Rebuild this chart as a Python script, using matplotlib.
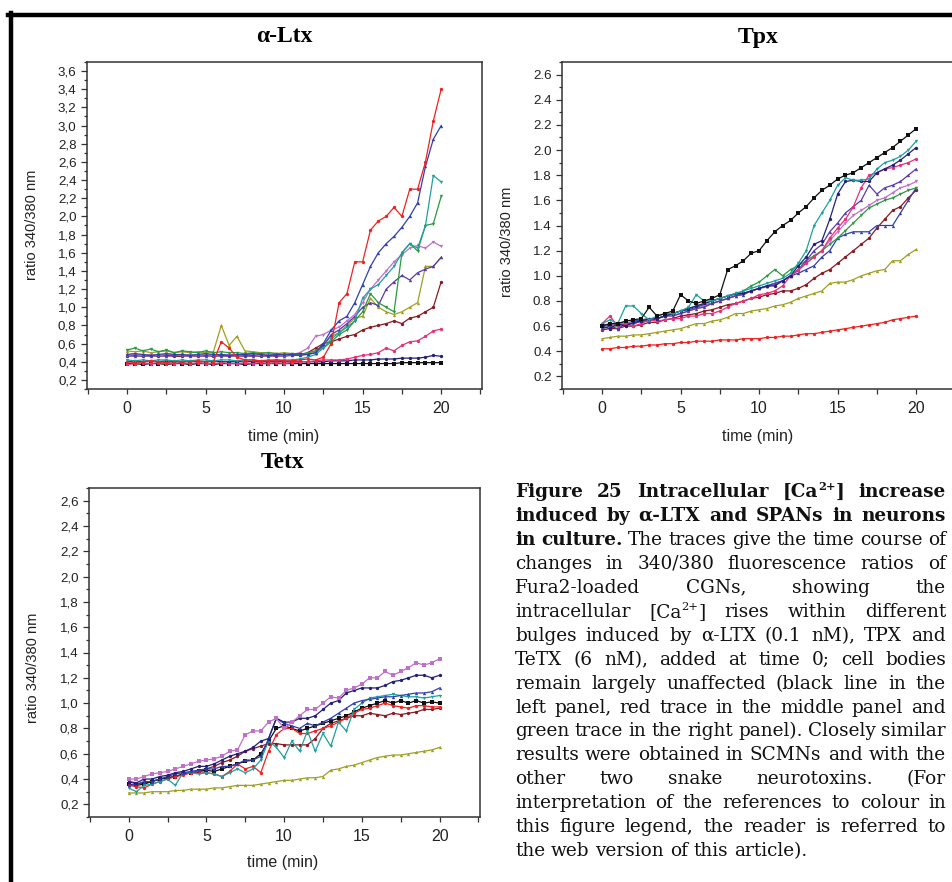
import re
import matplotlib
matplotlib.use("Agg")
import matplotlib.pyplot as plt
from matplotlib.lines import Line2D
from matplotlib.ticker import MultipleLocator, FixedLocator, FuncFormatter
from matplotlib import font_manager

# ---------------- data ----------------
time_min = [0.0, 0.5, 1.0, 1.5, 2.0, 2.5, 3.0, 3.5, 4.0, 4.5,
            5.0, 5.5, 6.0, 6.5, 7.0, 7.5, 8.0, 8.5, 9.0, 9.5,
            10.0, 10.5, 11.0, 11.5, 12.0, 12.5, 13.0, 13.5, 14.0, 14.5,
            15.0, 15.5, 16.0, 16.5, 17.0, 17.5, 18.0, 18.5, 19.0, 19.5,
            20.0]
x_ticks = [0, 5, 10, 15, 20]
panel_titles = ["\u03b1-Ltx", "Tpx", "Tetx"]

# alpha-Ltx panel
ltx_black = [0.38,0.38,0.37,0.38,0.38,0.37,0.38,0.38,0.37,0.38, 0.38,0.37,0.38,0.38,0.38,0.37,0.38,0.38,0.38,0.38,
             0.38,0.38,0.38,0.38,0.38,0.38,0.38,0.38,0.38,0.38, 0.38,0.38,0.38,0.38,0.38,0.39,0.39,0.39,0.39,0.39, 0.39]
ltx_navy = [0.40,0.41,0.40,0.41,0.40,0.41,0.40,0.40,0.41,0.40, 0.40,0.41,0.40,0.40,0.40,0.41,0.40,0.40,0.40,0.40,
            0.40,0.40,0.40,0.40,0.40,0.40,0.41,0.41,0.41,0.42, 0.42,0.42,0.43,0.43,0.43,0.44,0.44,0.44,0.45,0.47, 0.46]
ltx_pink = [0.37,0.38,0.39,0.38,0.39,0.38,0.38,0.39,0.38,0.39, 0.38,0.38,0.39,0.38,0.38,0.39,0.38,0.39,0.38,0.39,
            0.38,0.39,0.40,0.40,0.41,0.42,0.42,0.42,0.43,0.45, 0.47,0.48,0.50,0.55,0.52,0.58,0.62,0.63,0.68,0.74, 0.76]
ltx_red = [0.40,0.39,0.40,0.41,0.40,0.39,0.40,0.40,0.40,0.41, 0.40,0.40,0.62,0.55,0.45,0.42,0.42,0.41,0.41,0.42,
           0.41,0.41,0.42,0.43,0.42,0.45,0.60,1.05,1.15,1.50, 1.50,1.85,1.95,2.00,2.10,2.00,2.30,2.30,2.60,3.05, 3.40]
ltx_teal = [0.42,0.41,0.42,0.41,0.42,0.42,0.41,0.42,0.41,0.42, 0.42,0.41,0.42,0.42,0.41,0.42,0.42,0.41,0.42,0.42,
            0.42,0.42,0.43,0.45,0.48,0.55,0.65,0.72,0.78,0.85, 1.10,1.20,1.25,1.35,1.45,1.60,1.70,1.65,1.90,2.45, 2.38]
ltx_blue = [0.48,0.49,0.48,0.47,0.48,0.49,0.48,0.48,0.47,0.48, 0.49,0.48,0.48,0.47,0.48,0.48,0.49,0.48,0.47,0.48,
            0.48,0.48,0.49,0.48,0.50,0.60,0.75,0.85,0.90,1.05, 1.25,1.45,1.60,1.70,1.78,1.88,2.00,2.15,2.55,2.85, 3.00]
ltx_green = [0.53,0.55,0.52,0.54,0.51,0.53,0.50,0.52,0.51,0.50, 0.52,0.50,0.51,0.50,0.50,0.49,0.50,0.49,0.50,0.49,
             0.48,0.49,0.48,0.50,0.52,0.55,0.62,0.70,0.75,0.85, 0.95,1.15,1.05,1.00,0.95,1.60,1.70,1.62,1.90,1.92, 2.22]
ltx_violet = [0.47,0.48,0.47,0.48,0.47,0.48,0.48,0.47,0.48,0.47, 0.48,0.47,0.48,0.48,0.47,0.48,0.48,0.47,0.48,0.48,
              0.47,0.48,0.50,0.55,0.68,0.70,0.75,0.78,0.85,0.92, 1.05,1.20,1.30,1.40,1.50,1.58,1.65,1.68,1.65,1.72, 1.67]
ltx_indigo = [0.47,0.46,0.47,0.46,0.47,0.46,0.47,0.47,0.46,0.47, 0.46,0.47,0.46,0.47,0.46,0.47,0.46,0.47,0.46,0.47,
              0.46,0.47,0.47,0.48,0.50,0.58,0.70,0.75,0.82,0.90, 1.00,1.05,1.02,1.20,1.28,1.35,1.30,1.38,1.42,1.45, 1.55]
ltx_olive = [0.52,0.51,0.52,0.50,0.51,0.52,0.50,0.51,0.50,0.51, 0.50,0.51,0.80,0.58,0.68,0.52,0.51,0.50,0.50,0.49,
             0.50,0.49,0.48,0.49,0.52,0.58,0.68,0.72,0.80,0.88, 0.90,1.10,1.00,0.95,0.92,0.95,1.00,1.05,1.45,1.45, 1.55]
ltx_wine = [0.46,0.47,0.46,0.47,0.46,0.47,0.46,0.46,0.47,0.46, 0.47,0.46,0.47,0.46,0.47,0.46,0.47,0.46,0.47,0.46,
            0.47,0.47,0.47,0.50,0.55,0.60,0.62,0.65,0.68,0.70, 0.75,0.78,0.80,0.82,0.85,0.82,0.88,0.90,0.95,1.00, 1.28]

# Tpx panel
tpx_black = [0.60,0.62,0.62,0.64,0.65,0.66,0.75,0.68,0.70,0.72, 0.85,0.80,0.78,0.80,0.82,0.85,1.05,1.08,1.12,1.18,
             1.20,1.28,1.35,1.40,1.44,1.50,1.55,1.62,1.68,1.72, 1.77,1.80,1.82,1.86,1.90,1.94,1.98,2.02,2.07,2.12, 2.17]
tpx_red = [0.42,0.42,0.43,0.43,0.44,0.44,0.45,0.45,0.46,0.46, 0.47,0.47,0.48,0.48,0.48,0.49,0.49,0.49,0.50,0.50,
           0.50,0.51,0.51,0.52,0.52,0.53,0.54,0.54,0.55,0.56, 0.57,0.58,0.59,0.60,0.61,0.62,0.63,0.65,0.66,0.67, 0.68]
tpx_olive = [0.50,0.51,0.52,0.52,0.53,0.53,0.54,0.55,0.56,0.57, 0.58,0.60,0.62,0.62,0.64,0.65,0.67,0.70,0.70,0.72,
             0.73,0.74,0.76,0.77,0.79,0.82,0.84,0.86,0.88,0.94, 0.95,0.95,0.97,1.00,1.02,1.04,1.05,1.12,1.12,1.17, 1.21]
tpx_teal = [0.62,0.65,0.62,0.76,0.76,0.70,0.65,0.68,0.70,0.70, 0.72,0.75,0.85,0.80,0.80,0.82,0.84,0.86,0.88,0.90,
            0.92,0.94,0.96,0.98,1.02,1.10,1.20,1.40,1.50,1.60, 1.72,1.78,1.76,1.76,1.77,1.85,1.90,1.92,1.95,2.00, 2.07]
tpx_navy = [0.60,0.58,0.62,0.60,0.63,0.64,0.66,0.66,0.68,0.70, 0.72,0.74,0.76,0.78,0.80,0.82,0.84,0.86,0.86,0.88,
            0.90,0.92,0.92,0.96,1.00,1.08,1.15,1.25,1.28,1.45, 1.65,1.75,1.76,1.75,1.75,1.82,1.85,1.88,1.92,1.97, 2.02]
tpx_pink = [0.62,0.68,0.60,0.62,0.60,0.62,0.65,0.64,0.65,0.66, 0.66,0.68,0.68,0.70,0.70,0.72,0.75,0.78,0.80,0.82,
            0.85,0.86,0.88,0.92,1.00,1.05,1.10,1.15,1.20,1.30, 1.38,1.45,1.55,1.70,1.80,1.82,1.85,1.86,1.88,1.90, 1.93]
tpx_indigo = [0.58,0.60,0.58,0.62,0.62,0.64,0.64,0.66,0.68,0.68, 0.70,0.72,0.74,0.75,0.78,0.80,0.82,0.84,0.86,0.88,
              0.90,0.92,0.94,0.96,1.00,1.05,1.12,1.20,1.25,1.35, 1.42,1.50,1.55,1.60,1.72,1.65,1.70,1.72,1.75,1.80, 1.85]
tpx_green = [0.58,0.60,0.60,0.61,0.62,0.64,0.65,0.66,0.68,0.70, 0.72,0.74,0.76,0.78,0.80,0.82,0.84,0.85,0.88,0.92,
             0.95,1.00,1.05,1.00,1.05,1.08,1.12,1.16,1.20,1.25, 1.30,1.36,1.42,1.48,1.54,1.57,1.60,1.62,1.65,1.68, 1.70]
tpx_violet = [0.60,0.62,0.60,0.63,0.62,0.64,0.65,0.66,0.68,0.69, 0.70,0.72,0.74,0.76,0.78,0.80,0.82,0.84,0.86,0.88,
              0.90,0.91,0.93,0.96,1.00,1.04,1.10,1.15,1.20,1.28, 1.35,1.42,1.48,1.52,1.56,1.60,1.62,1.66,1.70,1.72, 1.75]
tpx_blue = [0.62,0.60,0.63,0.62,0.64,0.65,0.66,0.66,0.68,0.70, 0.72,0.73,0.75,0.77,0.78,0.80,0.82,0.84,0.85,0.88,
            0.90,0.92,0.94,0.96,1.00,1.02,1.05,1.08,1.15,1.20, 1.30,1.33,1.35,1.35,1.35,1.40,1.40,1.40,1.50,1.60, 1.70]
tpx_wine = [0.57,0.58,0.58,0.60,0.60,0.61,0.63,0.63,0.65,0.66, 0.68,0.69,0.70,0.72,0.73,0.75,0.77,0.78,0.80,0.82,
            0.83,0.85,0.86,0.88,0.88,0.90,0.93,0.98,1.02,1.05, 1.10,1.15,1.20,1.25,1.30,1.38,1.45,1.52,1.55,1.62, 1.68]

# Tetx panel
tetx_olive = [0.29,0.29,0.29,0.30,0.30,0.30,0.31,0.31,0.32,0.32, 0.32,0.33,0.33,0.34,0.35,0.35,0.35,0.36,0.37,0.38,
              0.39,0.39,0.40,0.41,0.41,0.42,0.47,0.48,0.50,0.51, 0.53,0.55,0.57,0.58,0.59,0.59,0.60,0.61,0.62,0.63, 0.65]
tetx_violet = [0.40,0.40,0.42,0.44,0.45,0.46,0.48,0.50,0.52,0.54, 0.55,0.56,0.58,0.62,0.63,0.75,0.78,0.78,0.85,0.88,
               0.80,0.85,0.90,0.95,0.95,1.00,1.05,1.04,1.10,1.12, 1.15,1.20,1.20,1.25,1.22,1.25,1.28,1.32,1.30,1.32, 1.35]
tetx_navy = [0.38,0.37,0.40,0.40,0.42,0.43,0.45,0.46,0.48,0.50, 0.50,0.52,0.55,0.58,0.60,0.62,0.65,0.70,0.72,0.88,
             0.85,0.85,0.88,0.88,0.90,0.95,1.00,1.02,1.08,1.10, 1.12,1.12,1.12,1.14,1.17,1.18,1.20,1.22,1.22,1.20, 1.22]
tetx_blue = [0.35,0.36,0.38,0.38,0.40,0.42,0.44,0.45,0.46,0.47, 0.48,0.48,0.50,0.50,0.52,0.55,0.55,0.58,0.72,0.88,
             0.84,0.82,0.80,0.84,0.82,0.85,0.88,0.92,0.96,1.00, 1.02,1.03,1.04,1.05,1.05,1.06,1.07,1.08,1.08,1.09, 1.12]
tetx_teal = [0.33,0.30,0.35,0.36,0.38,0.40,0.35,0.45,0.45,0.44, 0.45,0.44,0.42,0.45,0.48,0.45,0.48,0.55,0.70,0.65,
             0.57,0.70,0.62,0.78,0.62,0.76,0.66,0.85,0.78,0.95, 1.00,1.04,1.05,1.06,1.07,1.06,1.05,1.05,1.04,1.05, 1.06]
tetx_red = [0.35,0.34,0.33,0.36,0.38,0.40,0.42,0.43,0.45,0.46, 0.45,0.44,0.42,0.46,0.52,0.48,0.50,0.45,0.62,0.75,
            0.80,0.80,0.76,0.76,0.78,0.80,0.82,0.85,0.88,0.92, 0.95,0.96,0.98,1.00,0.98,0.97,0.96,0.98,0.98,0.97, 0.97]
tetx_black = [0.36,0.35,0.36,0.38,0.40,0.41,0.42,0.44,0.45,0.46, 0.47,0.46,0.48,0.50,0.52,0.54,0.55,0.60,0.70,0.80,
              0.82,0.80,0.78,0.80,0.82,0.84,0.86,0.88,0.90,0.93, 0.96,0.98,1.00,1.02,1.00,1.02,1.00,1.02,1.00,1.01, 1.00]
tetx_wine = [0.38,0.36,0.37,0.38,0.40,0.41,0.42,0.44,0.45,0.46, 0.48,0.50,0.53,0.55,0.58,0.62,0.64,0.66,0.68,0.68,
             0.67,0.67,0.67,0.67,0.72,0.80,0.84,0.86,0.88,0.90, 0.90,0.92,0.91,0.90,0.92,0.91,0.92,0.93,0.95,0.95, 0.96]

caption_lines = [
    "Figure 25 Intracellular [Ca^{2+}] increase",
    "induced by \u03b1-LTX and SPANs in neurons",
    "in culture. The traces give the time course of",
    "changes in 340/380 fluorescence ratios of",
    "Fura2-loaded CGNs, showing the",
    "intracellular [Ca^{2+}] rises within different",
    "bulges induced by \u03b1-LTX (0.1 nM), TPX and",
    "TeTX (6 nM), added at time 0; cell bodies",
    "remain largely unaffected (black line in the",
    "left panel, red trace in the middle panel and",
    "green trace in the right panel). Closely similar",
    "results were obtained in SCMNs and with the",
    "other two snake neurotoxins. (For",
    "interpretation of the references to colour in",
    "this figure legend, the reader is referred to",
    "the web version of this article).",
]
caption_bold_words = [99, 99, 2, 0, 0, 0, 0, 0, 0, 0, 0, 0, 0, 0, 0, 0]

# ---------------- styles ----------------
C = dict(black="#111111", red="#ee2222", blue="#3040b0", green="#2a9a40",
         pink="#e8307a", olive="#a0a020", navy="#24207a", wine="#8a1a22",
         teal="#1fa0a0", violet="#c070c8", indigo="#5a3aa8")

names = {f.name for f in font_manager.fontManager.ttflist}
ylab_family = "Liberation Sans Narrow" if "Liberation Sans Narrow" in names else "Liberation Sans"
sans = "Liberation Sans"

W, H = 952, 882
fig = plt.figure(figsize=(W / 100, H / 100), dpi=100)


def add_ax(x0, y0, x1, y1):
    return fig.add_axes([x0 / W, 1 - y1 / H, (x1 - x0) / W, (y1 - y0) / H])


def fx(x):
    return x / W


def fy(y):
    return 1 - y / H


def style(ax, ylim, comma):
    ax.set_xlim(-2.55, 22.6)
    ax.set_ylim(*ylim)
    ax.xaxis.set_major_locator(FixedLocator(x_ticks))
    ax.xaxis.set_minor_locator(FixedLocator([-2.5, 2.5, 7.5, 12.5, 17.5, 22.5]))
    ax.yaxis.set_major_locator(MultipleLocator(0.2))
    ax.yaxis.set_minor_locator(MultipleLocator(0.1))
    if comma:
        ax.yaxis.set_major_formatter(FuncFormatter(lambda v, p: f"{v:.1f}".replace(".", ",")))
    else:
        ax.yaxis.set_major_formatter(FuncFormatter(lambda v, p: f"{v:.1f}"))
    ax.xaxis.set_major_formatter(FuncFormatter(lambda v, p: f"{int(v)}"))
    ax.tick_params(axis="both", which="both", direction="out", color="#333333", width=0.9)
    ax.tick_params(axis="y", which="major", length=4.5, pad=3, labelsize=9.6)
    ax.tick_params(axis="y", which="minor", length=2.5)
    ax.tick_params(axis="x", which="both", length=3.5, pad=5, labelsize=11.5)
    for lab in ax.get_xticklabels() + ax.get_yticklabels():
        lab.set_family(sans)
        lab.set_color("#222222")
    for s in ax.spines.values():
        s.set_color("#333333")
        s.set_linewidth(1.1)


def draw(ax, series):
    for vals, col, mk in series:
        ax.plot(time_min, vals, color=C[col], lw=0.9, marker=mk, ms=2.4,
                mew=0, mfc=C[col], clip_on=True)


# top-left: alpha-Ltx
ax1 = add_ax(87, 62, 482, 389)
draw(ax1, [(ltx_black, "black", "s"), (ltx_navy, "navy", "o"), (ltx_pink, "pink", "o"),
           (ltx_wine, "wine", "o"), (ltx_olive, "olive", "^"), (ltx_indigo, "indigo", "^"),
           (ltx_violet, "violet", "v"), (ltx_green, "green", "v"), (ltx_teal, "teal", "v"),
           (ltx_blue, "blue", "^"), (ltx_red, "red", "o")])
style(ax1, (0.1, 3.7), True)

# top-right: Tpx
ax2 = add_ax(562, 62, 957, 389)
draw(ax2, [(tpx_red, "red", "o"), (tpx_olive, "olive", "^"), (tpx_wine, "wine", "o"),
           (tpx_blue, "blue", "^"), (tpx_violet, "violet", "v"), (tpx_green, "green", "v"),
           (tpx_indigo, "indigo", "^"), (tpx_pink, "pink", "o"), (tpx_navy, "navy", "o"),
           (tpx_teal, "teal", "v"), (tpx_black, "black", "s")])
style(ax2, (0.1, 2.7), False)

# bottom-left: Tetx
ax3 = add_ax(89, 488, 480, 817)
draw(ax3, [(tetx_olive, "olive", "^"), (tetx_wine, "wine", "o"), (tetx_black, "black", "s"),
           (tetx_red, "red", "o"), (tetx_teal, "teal", "v"), (tetx_blue, "blue", "^"),
           (tetx_navy, "navy", "o"), (tetx_violet, "violet", "s")])
style(ax3, (0.1, 2.7), True)

# titles and axis labels
title_kw = dict(family="Liberation Serif", fontweight="bold", fontsize=17, ha="center", va="center")
fig.text(fx(284), fy(37), panel_titles[0], **title_kw)
fig.text(fx(758), fy(37), panel_titles[1], **title_kw)
fig.text(fx(283), fy(462), panel_titles[2], **title_kw)

xl_kw = dict(family=sans, fontsize=11.5, ha="center", va="center", color="#222222")
fig.text(fx(284), fy(437), "time (min)", **xl_kw)
fig.text(fx(758), fy(437), "time (min)", **xl_kw)
fig.text(fx(283), fy(863), "time (min)", **xl_kw)

yl_kw = dict(family=ylab_family, fontsize=10.5, ha="center", va="center", rotation=90, color="#222222")
fig.text(fx(32), fy(225), "ratio 340/380 nm", **yl_kw)
fig.text(fx(507), fy(242), "ratio 340/380 nm", **yl_kw)
fig.text(fx(33), fy(668), "ratio 340/380 nm", **yl_kw)

# frame lines
fig.add_artist(Line2D([fx(8), 1.0], [fy(15), fy(15)], color="black", lw=3.2))
fig.add_artist(Line2D([fx(11), fx(11)], [fy(13), 0.0], color="black", lw=3.2))

# ---------------- caption (justified) ----------------
cap_family = "DejaVu Serif"
cap_size = 13.3
L, R = 515, 946
base0, step = 497, 23.95
renderer = fig.canvas.get_renderer()


def split_segments(word):
    parts = re.split(r"\^\{(.*?)\}", word)
    segs = []
    for i, p in enumerate(parts):
        if p:
            segs.append((p, i % 2 == 1))
    return segs


def measure(txt, bold, size):
    t = fig.text(0, 0, txt, family=cap_family, fontsize=size,
                 fontweight="bold" if bold else "normal")
    w = t.get_window_extent(renderer).width
    t.remove()
    return w


space_w = measure("a a", False, cap_size) - 2 * measure("a", False, cap_size)

for li, line in enumerate(caption_lines):
    words = line.split(" ")
    nb = caption_bold_words[li]
    size = cap_size
    # shrink a line slightly if it cannot fit with a minimal gap
    while True:
        info = []
        for wi, w in enumerate(words):
            bold = wi < nb
            segs = split_segments(w)
            widths = []
            for txt, sup in segs:
                sz = size * 0.62 if sup else size
                widths.append(measure(txt, bold, sz))
            info.append((segs, widths, bold))
        total = sum(sum(ws) for _, ws, _ in info)
        if total + 0.6 * space_w * (len(words) - 1) <= (R - L) or size < 10:
            break
        size -= 0.2
    last = li == len(caption_lines) - 1
    gap = space_w if last or len(words) < 2 else (R - L - total) / (len(words) - 1)
    x = L
    yb = base0 + step * li
    for segs, widths, bold in info:
        for (txt, sup), w in zip(segs, widths):
            sz = size * 0.62 if sup else size
            yy = yb - (7 if sup else 0)
            fig.text(fx(x), fy(yy), txt, family=cap_family, fontsize=sz,
                     fontweight="bold" if bold else "normal", ha="left", va="baseline",
                     color="#111111")
            x += w
        x += gap

fig.savefig("out.png", dpi=100)
